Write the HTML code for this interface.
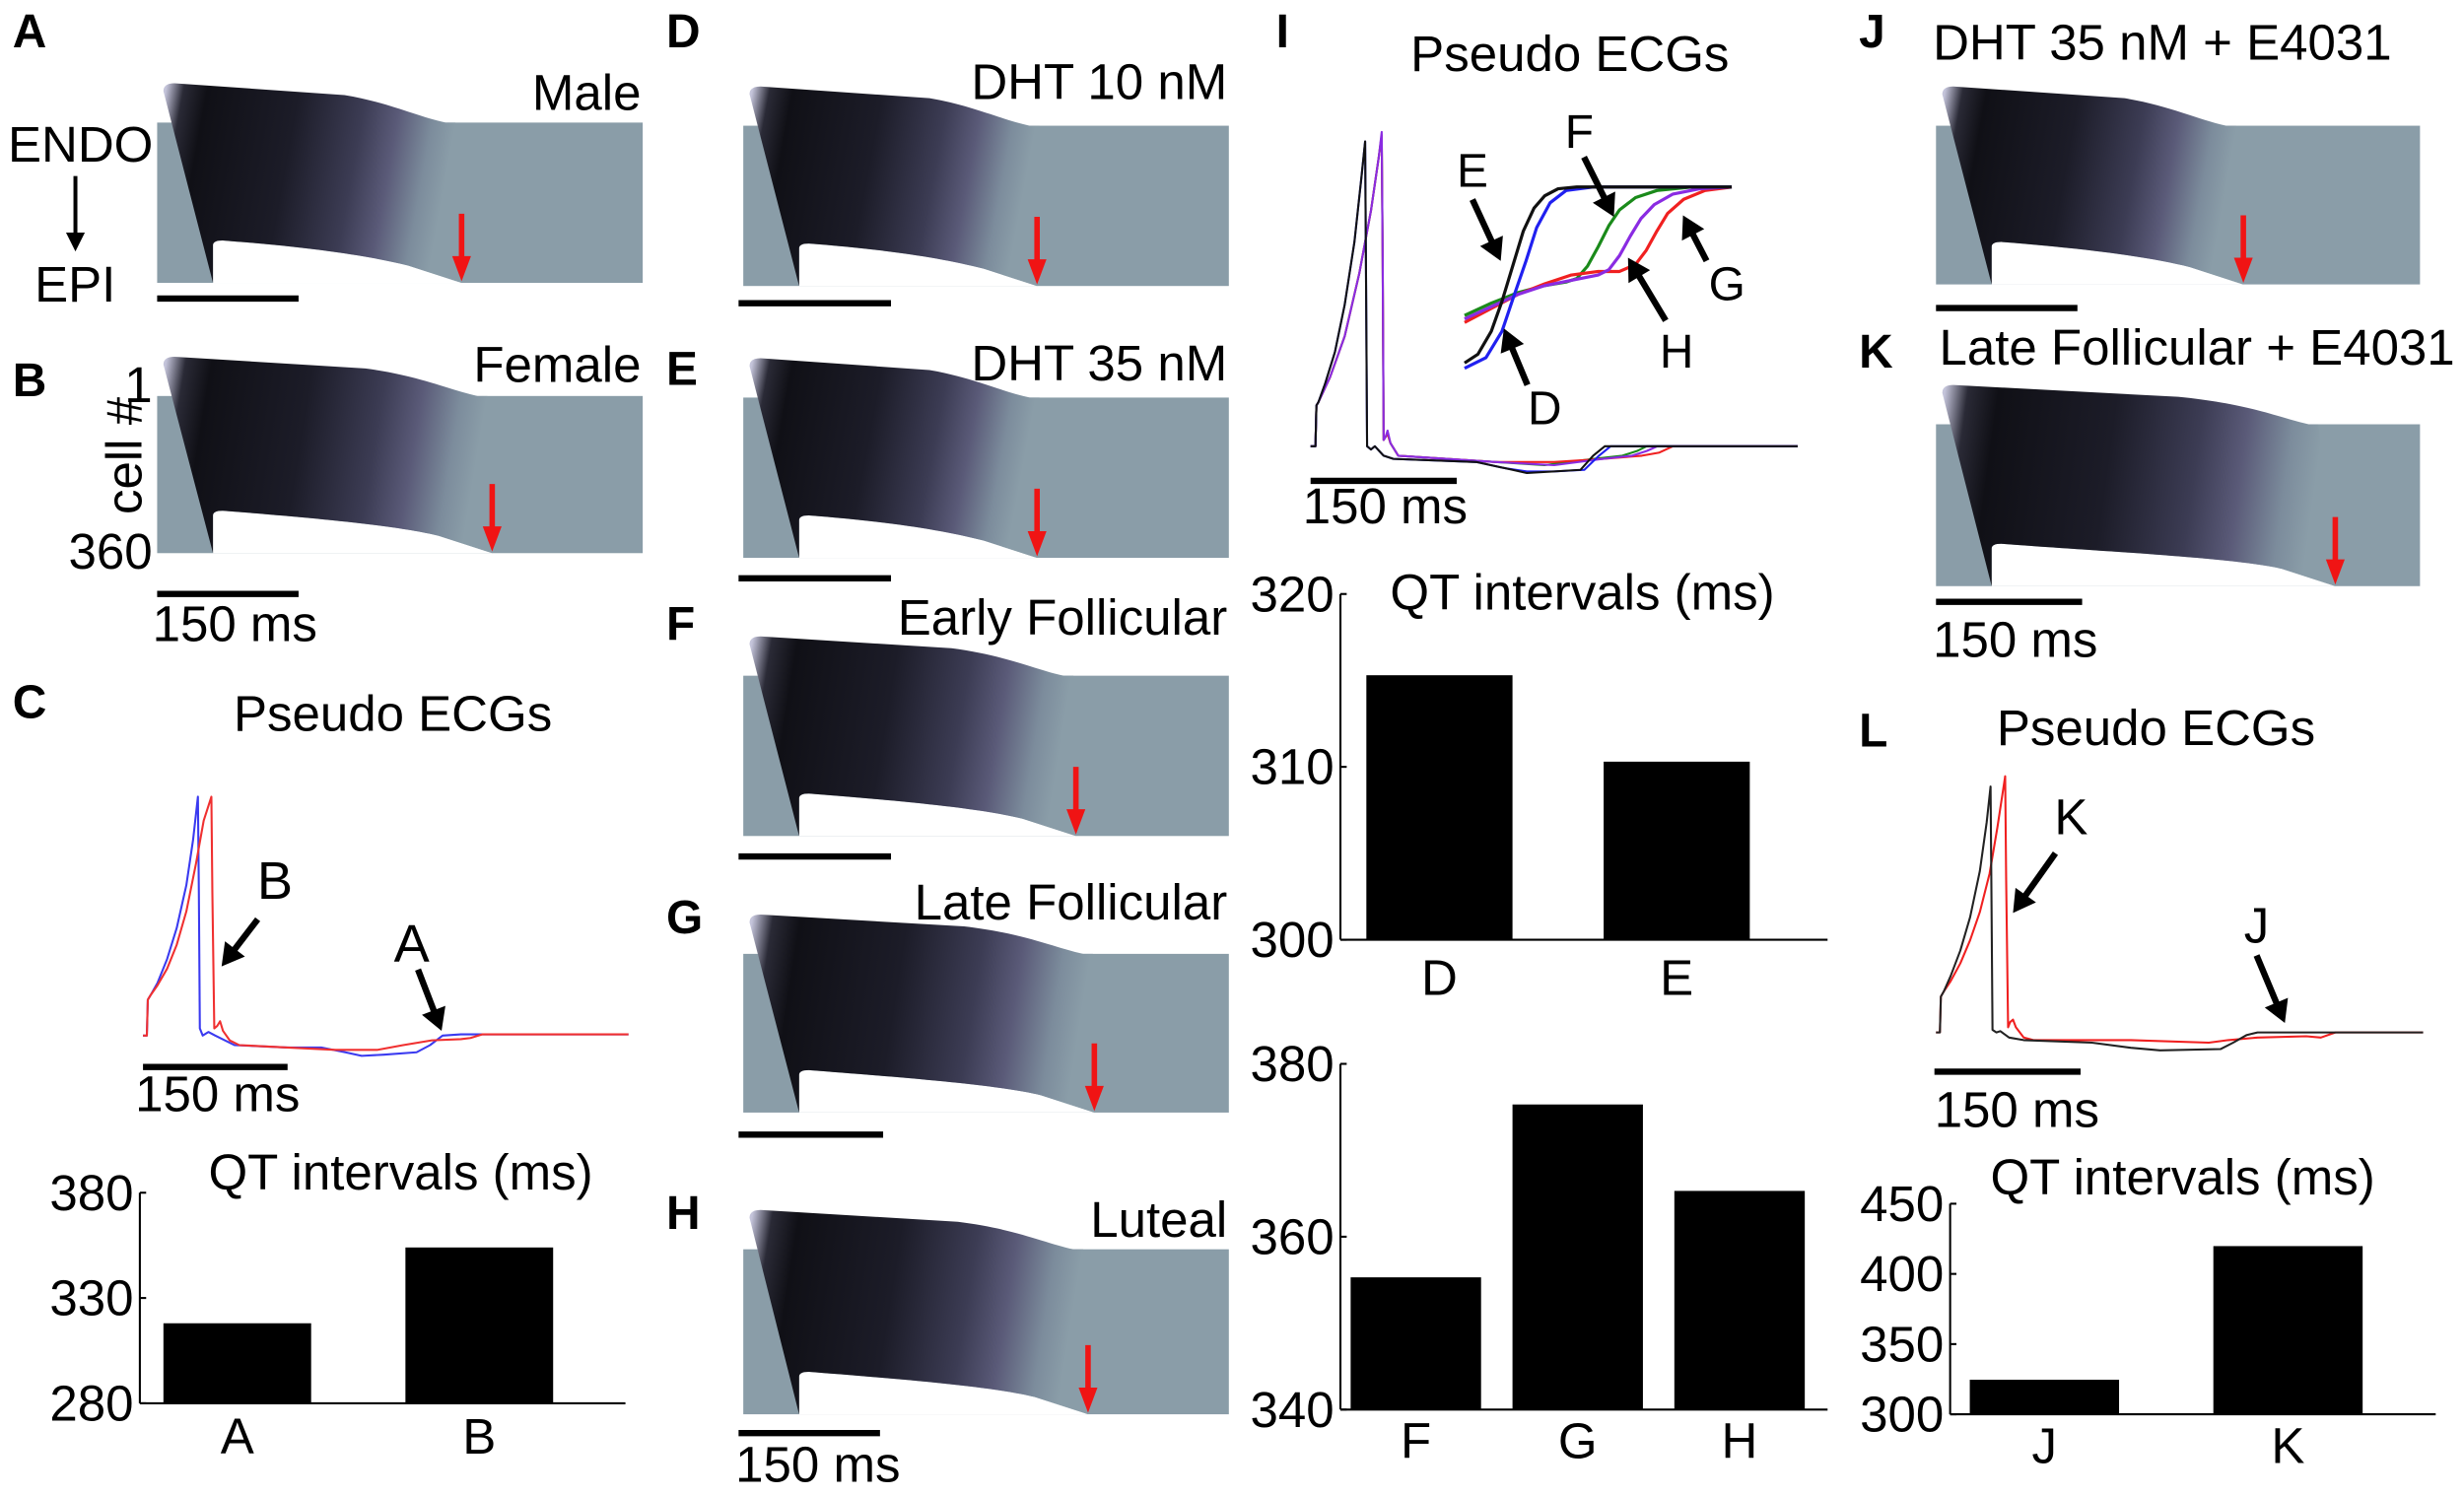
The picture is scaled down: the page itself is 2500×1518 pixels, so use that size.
<!DOCTYPE html>
<html><head><meta charset="utf-8"><style>
html,body{margin:0;padding:0;background:#fff}
svg{display:block}
text{font-family:"Liberation Sans",Arial,sans-serif;fill:#000}
</style></head><body>
<svg id="fig" width="2500" height="1518" viewBox="0 0 1568 952" preserveAspectRatio="none" xmlns="http://www.w3.org/2000/svg" font-family="Liberation Sans, Arial, sans-serif">
<defs></defs>
</svg>
<script>
// ---------- data ----------
const cCats=['A','B'];
const cVals=[318,354];
const cTicks=[280,330,380];
const i1Cats=['D','E'];
const i1Vals=[315.3,310.3];
const i1Ticks=[300,310,320];
const i2Cats=['F','G','H'];
const i2Vals=[355.3,375.3,365.3];
const i2Ticks=[340,360,380];
const lCats=['J','K'];
const lVals=[324.6,419.8];
const lTicks=[300,350,400,450];

// heatmap repolarization fractions (endo top / epi bottom) for panels A,B,D,E,F,G,H,J,K
const hmNames=['A','B','D','E','F','G','H','J','K'];
const hmRepolTop=[0.594,0.66,0.59,0.59,0.66,0.70,0.68,0.6,0.77];
const hmRepolBottom=[0.627,0.69,0.605,0.605,0.685,0.723,0.71,0.635,0.825];

// ECG traces [time ms, amplitude]
const cBlue=[[0,0],[4,0],[5,15],[8,17],[15,22],[25,32],[35,45],[45,63],[52,82],[57,100],[58,60],[59,3],[62,0],[68,1.5],[75,0],[95,-4],[150,-5],[185,-5],[210,-7],[227,-8.5],[250,-8],[284,-7],[298,-4],[311,0],[330,0.5],[504,0.5]];
const cRed=[[0,0],[4,0],[5,15],[8,17],[15,21],[25,28],[35,38],[45,52],[55,72],[63,90],[71,100],[72,60],[74,3],[77,4],[80,6],[83,2],[90,-2],[100,-4],[150,-5],[200,-6],[243,-6],[270,-4],[300,-2],[330,-1.5],[340,-1],[352,0.5],[504,0.5]];
const iBlack=[[0,0],[5,0],[6,13],[8,14],[15,20],[25,30],[35,45],[45,65],[52,85],[56,97],[57,50],[58,0],[62,-1],[66,0],[75,-3],[85,-4],[170,-5],[200,-7],[222,-8.5],[250,-8],[277,-7.5],[290,-3],[302,0],[500,0]];
const iBlue=[[0,0],[5,0],[6,13],[8,14],[15,20],[25,30],[35,45],[45,65],[52,85],[56,97],[57,50],[58,0],[62,-1],[66,0],[75,-3],[85,-4],[170,-5],[200,-7],[222,-8],[250,-8],[281,-7.5],[296,-3],[308,0],[500,0]];
const iPurple=[[0,0],[5,0],[6,13],[8,14],[20,22],[35,35],[50,55],[62,75],[70,92],[73,100],[74,60],[75,2],[77,3],[79,5],[82,1],[90,-3],[190,-5],[250,-6],[300,-4],[330,-3],[345,-1.5],[356,0],[500,0]];
const iGreen=[[0,0],[5,0],[6,13],[8,14],[20,22],[35,35],[50,55],[62,75],[70,92],[73,99],[74,60],[75,2],[79,4],[82,1],[90,-3],[190,-5],[240,-6],[290,-4],[320,-3],[335,-1.5],[345,0],[500,0]];
const iRed=[[0,0],[5,0],[6,13],[8,14],[20,22],[35,35],[50,55],[62,75],[70,92],[73,99],[74,60],[75,2],[79,4],[82,1],[90,-3],[190,-5],[250,-5],[300,-4],[340,-3],[358,-2],[372,0],[500,0]];
const insBlack=[[0,0],[5,5],[10,18],[14,35],[18,55],[22,75],[26,88],[30,95],[35,99],[42,100],[100,100]];
const insBlue=[[0,-3],[8,3],[14,18],[18,36],[23,58],[27,77],[32,91],[38,98],[48,100],[100,100]];
const insGreen=[[0,27],[10,34],[20,40],[30,44],[38,46],[42,48],[46,55],[50,66],[54,78],[58,87],[64,94],[72,98],[85,100],[100,100]];
const insPurple=[[0,25],[10,32],[20,39],[30,44],[40,47],[50,50],[54,53],[58,61],[62,72],[66,82],[71,90],[78,96],[88,99],[100,100]];
const insRed=[[0,23],[10,31],[20,39],[30,45],[40,50],[50,52],[58,52],[64,56],[68,64],[72,75],[76,85],[82,93],[90,98],[100,100]];
const lBlack=[[0,0],[4,0],[5,14],[8,16],[15,22],[25,32],[35,45],[45,63],[52,82],[56,96],[57,50],[58,1],[62,0],[66,0.5],[75,-2],[90,-3],[160,-4],[200,-6],[230,-7],[292,-6.5],[305,-4],[319,-1],[330,0],[500,0]];
const lRed=[[0,0],[4,0],[5,14],[8,16],[15,20],[25,27],[35,36],[45,47],[55,62],[63,80],[71,100],[72,60],[74,2],[76,4],[79,5],[82,2],[90,-2],[100,-3],[200,-3],[280,-4],[300,-3],[330,-2],[380,-1.5],[395,-2],[410,0],[500,0]];

// ---------- helpers ----------
const NS='http://www.w3.org/2000/svg';
const svg=document.getElementById('fig');
const defs=svg.querySelector('defs');
function add(tag,attrs,name,parent){
  const el=document.createElementNS(NS,tag);
  for(const k in attrs) el.setAttribute(k,attrs[k]);
  
  
  (parent||svg).appendChild(el);
  return el;
}
function txt(x,y,s,name,size,anchor,weight){
  const t=add('text',{x:x,y:y,'font-size':size||32,'text-anchor':anchor||'start','font-weight':weight||'normal','font-family':'Liberation Sans, Arial, sans-serif'},name);
  t.textContent=s;
  return t;
}
function arrow(x1,y1,x2,y2,name,color,w,hl,hw){
  color=color||'#000';w=w||4;hl=hl||14;hw=hw||8;
  const dx=x2-x1,dy=y2-y1,L=Math.hypot(dx,dy),ux=dx/L,uy=dy/L;
  const bx=x2-ux*hl,by=y2-uy*hl;
  const g=add('g',{},name);
  add('line',{x1:x1,y1:y1,x2:bx+ux*2,y2:by+uy*2,stroke:color,'stroke-width':w},name+'-shaft',g);
  add('polygon',{points:`${x2},${y2} ${bx-uy*hw},${by+ux*hw} ${bx+uy*hw},${by-ux*hw}`,fill:color},name+'-head',g);
}
function scalebar(x1,x2,y,name){add('line',{x1:x1,x2:x2,y1:y,y2:y,stroke:'#000','stroke-width':4},name);}

// ---------- heatmap ----------
function heatmap(i,x0,y0,x1,y1){
  const w=x1-x0,top=hmRepolTop[i],bot=hmRepolBottom[i],u=0.115,n=hmNames[i].toLowerCase();
  const X=f=>x0+f*w;
  add('rect',{x:x0,y:y0,width:w,height:y1-y0,fill:'#8a9da8'},'heatmap-'+n+'-background');
  add('path',{d:`M${X(u)},${y1} L${X(u)},${y1-24} Q${X(u)},${y1-27} ${X(u+0.02)},${y1-27} C${X(0.3)},${y1-23} ${X(bot-0.2)},${y1-18} ${X(bot-0.11)},${y1-11} Q${X(bot-0.03)},${y1-3} ${X(bot)},${y1} Z`,fill:'#fff'},'heatmap-'+n+'-gap');
  const gid='grad'+i;
  const lg=add('linearGradient',{id:gid,gradientUnits:'userSpaceOnUse',x1:X(0.02),y1:y0-25,x2:X((top+bot)/2),y2:y0+8},'gradient',defs);
  [[0,'#c4c4da'],[0.06,'#2a2a36'],[0.14,'#101016'],[0.45,'#1c1c28'],[0.68,'#3c3c54'],[0.8,'#5a5a78'],[0.92,'#7c8c9c'],[1,'#8a9da8']].forEach(s=>{
    add('stop',{offset:s[0],'stop-color':s[1]},'gradient-stop',lg);
  });
  add('path',{d:`M${x0+4},${y0-20} Q${x0+4},${y0-25} ${x0+11},${y0-25} L${X(0.386*top/0.594)},${y0-17.5} C${X(top-0.12)},${y0-13} ${X(top-0.06)},${y0-4} ${X(top)},${y0} L${X(top+0.02)},${y0} L${X(bot)},${y1} Q${X(bot-0.03)},${y1-3} ${X(bot-0.11)},${y1-11} C${X(bot-0.2)},${y1-18} ${X(0.3)},${y1-23} ${X(u+0.02)},${y1-27} Q${X(u)},${y1-27} ${X(u)},${y1-24} L${X(u)},${y1} Z`,fill:`url(#${gid})`},'heatmap-'+n+'-wave');
  const ax=X(bot);
  arrow(ax,y1-44,ax,y1-1,'repolarization-arrow-'+n,'#f01414',3.5,16,6);
}

// ---------- ECG ----------
function trace(pts,x0,k,yb,m,color,name,w){
  const d=pts.map((p,j)=>(j?'L':'M')+(x0+p[0]*k).toFixed(2)+','+(yb-p[1]*m).toFixed(2)).join(' ');
  add('path',{d:d,fill:'none',stroke:color,'stroke-width':w||1.3,'stroke-linejoin':'round'},name);
}

// ---------- bar chart ----------
function bars(name,ax,ayTop,ayBot,axRight,min,max,cats,vals,ticks,off,spacing,bw,labY){
  const y=v=>ayBot-(v-min)/(max-min)*(ayBot-ayTop);
  add('line',{x1:ax,x2:ax,y1:ayTop,y2:ayBot,stroke:'#000','stroke-width':1.3},name+'-y-axis');
  add('line',{x1:ax,x2:axRight,y1:ayBot,y2:ayBot,stroke:'#000','stroke-width':1.3},name+'-x-axis');
  ticks.forEach(t=>{
    add('line',{x1:ax,x2:ax+4,y1:y(t),y2:y(t),stroke:'#000','stroke-width':1.3},name+'-tick');
    txt(ax-4,y(t)+11,String(t),name+'-tick-label',32,'end');
  });
  cats.forEach((c,j)=>{
    const cx=ax+off+j*spacing;
    add('rect',{x:cx-bw/2,y:y(vals[j]),width:bw,height:ayBot-y(vals[j]),fill:'#000'},name+'-bar-'+c.toLowerCase());
    txt(cx,labY,c,name+'-category-label',32,'middle');
  });
}

// ---------- panel letters ----------
[['A',8,30],['B',8,252],['C',8,457],['D',424,30],['E',424,245],['F',424,407],['G',424,594],['H',424,782],['I',812,30],['J',1183,30],['K',1183,234],['L',1183,475]].forEach(p=>txt(p[1],p[2],p[0],'panel-letter-'+p[0].toLowerCase(),30,'start','bold'));

// Column 1
heatmap(0,100,78,409,180);
txt(408,70,'Male','label-male',32,'end');
txt(5,103,'ENDO','label-endo',32);
arrow(48,112,48,160,'endo-epi-arrow','#000',2.5,12,6);
txt(22,192,'EPI','label-epi',32);
scalebar(100,190,190,'scale-bar-a');
heatmap(1,100,252,409,352);
txt(408,243,'Female','label-female',32,'end');
txt(97,256,'1','cell-axis-top',32,'end');
txt(97,362,'360','cell-axis-bottom',32,'end');
const ct=txt(0,0,'cell #','cell-axis-title',32,'middle');
ct.setAttribute('transform','translate(90,290) rotate(-90)');
scalebar(100,190,378,'scale-bar-b');
txt(97,408,'150 ms','scale-label-b',32);

txt(250,465,'Pseudo ECGs','title-ecg-c',32,'middle');
trace(cBlue,91,0.613,659,1.52,'#3a3af0','ecg-c-blue');
trace(cRed,91,0.613,659,1.52,'#f03030','ecg-c-red');
txt(175,572,'B','ecg-c-label-b',34,'middle');
arrow(164,585,141,615,'ecg-c-arrow-b');
txt(262,612,'A','ecg-c-label-a',34,'middle');
arrow(266,617,281,656,'ecg-c-arrow-a');
scalebar(91,183,679,'scale-bar-c');
txt(86,707,'150 ms','scale-label-c',32);
txt(255,757,'QT intervals (ms)','title-qt-c',32,'middle');
bars('qt-c',89,759,893,398,280,380,cCats,cVals,cTicks,62,154,94,925);

// Column 2
heatmap(2,473,80,782,182); txt(781,63,'DHT 10 nM','label-dht10',32,'end'); scalebar(470,567,193,'scale-bar-d');
heatmap(3,473,253,782,355); txt(781,242,'DHT 35 nM','label-dht35',32,'end'); scalebar(470,567,368,'scale-bar-e');
heatmap(4,473,430,782,532); txt(781,404,'Early Follicular','label-early-follicular',32,'end'); scalebar(470,567,545,'scale-bar-f');
heatmap(5,473,607,782,708); txt(781,585,'Late Follicular','label-late-follicular',32,'end'); scalebar(470,562,722,'scale-bar-g');
heatmap(6,473,795,782,900); txt(781,787,'Luteal','label-luteal',32,'end'); scalebar(470,560,912,'scale-bar-h');
txt(468,943,'150 ms','scale-label-h',32);

// Column 3
txt(999,45,'Pseudo ECGs','title-ecg-i',32,'middle');
trace(iGreen,834,0.62,284,2.0,'#1a8a1a','ecg-i-green');
trace(iRed,834,0.62,284,2.0,'#f02020','ecg-i-red');
trace(iPurple,834,0.62,284,2.0,'#8a2be2','ecg-i-purple');
trace(iBlue,834,0.62,284,2.0,'#2020f0','ecg-i-blue');
trace(iBlack,834,0.62,284,2.0,'#111','ecg-i-black');
const ix=932,ik=1.7,iy=231,im=1.12;
trace(insGreen,ix,ik,iy,im,'#1a8a1a','inset-green',2);
trace(insRed,ix,ik,iy,im,'#f02020','inset-red',2);
trace(insPurple,ix,ik,iy,im,'#8a2be2','inset-purple',2);
trace(insBlue,ix,ik,iy,im,'#2020f0','inset-blue',2);
trace(insBlack,ix,ik,iy,im,'#111','inset-black',2);
txt(937,119,'E','inset-label-e',30,'middle'); arrow(937,127,955,166,'inset-arrow-e');
txt(1005,94,'F','inset-label-f',30,'middle'); arrow(1008,100,1027,138,'inset-arrow-f');
txt(1099,191,'G','inset-label-g',30,'middle'); arrow(1086,166,1071,137,'inset-arrow-g');
txt(1067,234,'H','inset-label-h',30,'middle'); arrow(1060,204,1036,164,'inset-arrow-h');
txt(983,270,'D','inset-label-d',30,'middle'); arrow(972,245,957,209,'inset-arrow-d');
scalebar(834,927,306,'scale-bar-i');
txt(829,333,'150 ms','scale-label-i',32);
txt(1007,388,'QT intervals (ms)','title-qt-i',32,'middle');
bars('qt-i1',853,378,598,1163,300,320,i1Cats,i1Vals,i1Ticks,63,151,93,633);
bars('qt-i2',853,677,897,1163,340,380,i2Cats,i2Vals,i2Ticks,48,103,83,928);

// Column 4
heatmap(7,1232,80,1540,181); txt(1230,38,'DHT 35 nM + E4031','label-dht35-e4031',32);
scalebar(1232,1322,196,'scale-bar-j');
heatmap(8,1232,270,1540,373); txt(1234,232,'Late Follicular + E4031','label-late-follicular-e4031',32);
scalebar(1232,1325,383,'scale-bar-k');
txt(1230,418,'150 ms','scale-label-k',32);
txt(1372,474,'Pseudo ECGs','title-ecg-l',32,'middle');
trace(lRed,1232,0.62,657,1.63,'#f02020','ecg-l-red');
trace(lBlack,1232,0.62,657,1.63,'#222','ecg-l-black');
txt(1318,531,'K','ecg-l-label-k',32,'middle'); arrow(1308,543,1281,581,'ecg-l-arrow-k');
txt(1436,600,'J','ecg-l-label-j',32,'middle'); arrow(1436,608,1454,651,'ecg-l-arrow-j');
scalebar(1231,1324,682,'scale-bar-l');
txt(1231,717,'150 ms','scale-label-l',32);
txt(1389,760,'QT intervals (ms)','title-qt-l',32,'middle');
bars('qt-l',1241,766,900,1550,300,450,lCats,lVals,lTicks,60,155,95,931);
</script>
</body></html>
